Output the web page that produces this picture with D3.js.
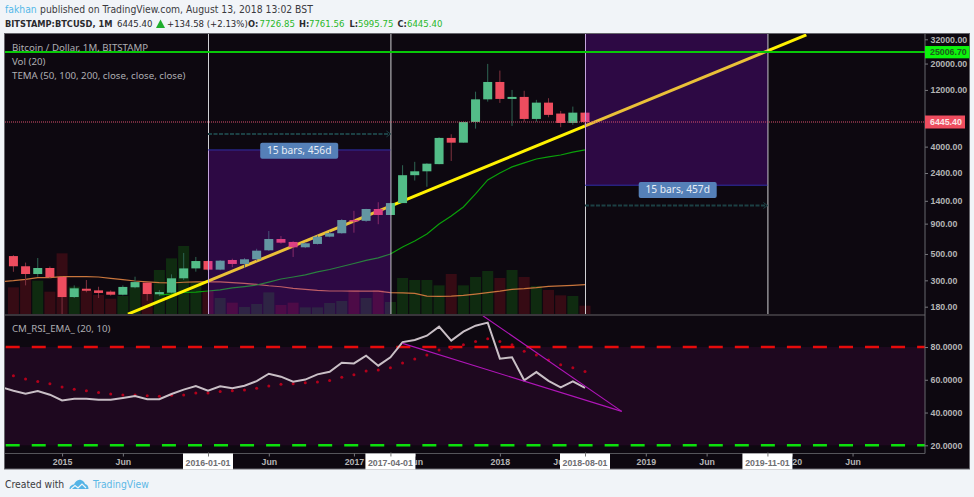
<!DOCTYPE html>
<html><head><meta charset="utf-8">
<style>html,body{margin:0;padding:0;background:#f1f4f8;overflow:hidden}svg{display:block}
.ax text{font-family:"Liberation Sans",Arial,sans-serif;font-size:8.8px;font-weight:bold;fill:#b4b4b4}
.hd{font-family:"DejaVu Sans Condensed","DejaVu Sans",sans-serif;font-stretch:condensed}
.lg{font-family:"Noto Sans",sans-serif}</style>
<script src="https://cdn.jsdelivr.net/npm/d3@7/dist/d3.min.js"></script></head><body>
<svg id="c" width="974" height="497"></svg>
<script>
// ---- data (months are bars, first bar 2014-09) ----
const months=['2014-09','2014-10','2014-11','2014-12','2015-01','2015-02','2015-03','2015-04','2015-05','2015-06','2015-07','2015-08','2015-09','2015-10','2015-11','2015-12','2016-01','2016-02','2016-03','2016-04','2016-05','2016-06','2016-07','2016-08','2016-09','2016-10','2016-11','2016-12','2017-01','2017-02','2017-03','2017-04','2017-05','2017-06','2017-07','2017-08','2017-09','2017-10','2017-11','2017-12','2018-01','2018-02','2018-03','2018-04','2018-05','2018-06','2018-07','2018-08'];
const opens =[480,394,339,381,320,217,255,247,241,227,262,287,229,236,312,378,436,369,445,412,451,537,668,631,569,607,699,747,965,950,1195,1064,1340,2300,2480,2850,4735,4320,6450,10000,14000,10080,10480,6840,9380,7590,6330,7726.85];
const highs =[489,423,462,392,322,272,302,265,247,272,322,290,249,337,510,472,440,445,456,462,553,780,708,640,628,715,770,985,1153,1200,1362,1350,2790,2980,2900,4800,5085,6500,11600,19870,17460,12000,11800,9900,10220,7990,8690,7761.56];
const lows  =[354,272,322,313,152,213,238,213,223,224,257,202,221,233,302,355,362,365,387,382,440,530,610,472,560,600,690,740,755,930,890,1064,1340,2076,1840,2845,3030,4320,5670,9570,9330,5975,6500,6493,7070,5830,6100,5995.75];
const closes=[394,339,381,319,217,257,245,235,227,264,290,230,239,312,378,436,369,439,412,451,533,668,622,569,615,699,747,965,950,1195,1064,1340,2300,2480,2875,4735,4320,6450,10000,14000,10080,10480,6840,9380,7400,6330,7726.85,6445.4];
const volumes=[80,104,100,67,182,82,70,57,46,54,80,60,132,167,204,97,70,48,34,21,30,65,27,34,20,20,33,39,72,48,72,36,108,102,102,86,120,86,111,129,108,132,111,84,72,56,54,25];
const tema50Start='2015-09';
const tema50=[226,230,237,239,244,249,259,266,274,290,308,320,333,353,370,392,416,441,463,500,572,643,736,894,1044,1242,1600,2097,2400,2700,2920,3150,3276,3400,3600,3750];
const tema100Start='2014-08';
const tema100=[292,298,306,316,316,322,322,322,320,312,304,296,291,287,285,289,291,292,291,287,283,277,270,265,257,252,247,244,244,243,243,243,236,235,233,221,220,221,224,230,236,243,252,255,260,267,269,272,276];
const rsiStart='2014-08';
const rsi=[55.5,53.3,51.5,53.1,50.9,47.4,48.4,48.4,47.8,47.8,48.9,50.1,48.1,48.1,51.3,54,56.2,53.3,56,54.8,56.4,59.2,63.7,61.9,58.8,60.1,63.3,64.9,70.4,70,74.7,68.6,73.7,83,84.3,86.9,92.4,83.9,89.4,93,94.9,72.9,73.7,59.7,64.7,59.3,55.4,59,55];
const rsiEmaStart='2014-09';
const rsiEma=[62.5,60.5,59,57.6,55.6,54.2,53.3,52.3,51.3,50.7,50.7,50.3,49.9,50.5,50.7,51.9,51.9,52.9,53.3,53.7,54.8,56.2,57.2,57.6,58.2,58.6,59.5,61.5,63.1,65.4,66,67.4,70.2,72.7,75.1,78.2,79.2,81.4,83.3,85.1,83.3,81.4,77.4,75.1,72.1,69.2,67.4,65];
const priceTicks=[32000,20000,12000,4000,2400,1400,900,500,300,180];
const rsiTicks=[80,60,40,20];
const timeTickMonths=['2015-01','2015-06','2016-06','2017-01','2017-06','2018-01','2018-06','2019-01','2019-06','2020-01','2020-06'];
const timeTickLabels=['2015','Jun','Jun','2017','Jun','2018','Jun','2019','Jun','2020','Jun'];
const markedMonths=['2016-01','2017-04','2018-08','2019-11'];
const markedLabels=['2016-01-01','2017-04-01','2018-08-01','2019-11-01'];
const lastPrice=6445.40, hLevel=25006.70;
const trendMonthIdx=[-6.58,49.2], trendPrice=[156,34850];
const zonePrices=[[100,3752],[1894,60000]];
const arrowPrices=[5117,1278];
const zoneLabels=['15 bars, 456d','15 bars, 457d'];
const zoneLabelPrices=[3752,1894];
const wedgeUpIdx=[22.6,34.02], wedgeUpRsi=[99.1,40.7];
const wedgeLowIdx=[16,34.02], wedgeLowRsi=[82.2,40.7];

// ---- helpers ----
const idx=s=>{const[a,b]=s.split('-').map(Number);return (a-2016)*12+b-1;};
const L=5,R=925,PT=34,PB=314,RT=316,RB=453.5,OUT=969.5,FB=469;
const x=d3.scaleLinear().domain([0,31]).range([208,585]);
const y=d3.scaleLog().domain([180,32000]).range([306.7,39.3]);
const yr=d3.scaleLinear().domain([20,80]).range([445.3,347]);
const volH=d3.scaleLinear().domain([0,204]).range([0,68]);
const svg=d3.select('#c');
const defs=svg.append('defs');
defs.append('clipPath').attr('id','p1').append('rect').attr('x',L).attr('y',PT).attr('width',R-L).attr('height',PB-PT);
defs.append('clipPath').attr('id','p2').append('rect').attr('x',L).attr('y',RT).attr('width',R-L).attr('height',RB-RT);

// frame
svg.append('rect').attr('x',4.5).attr('y',33.5).attr('width',OUT-4.5).attr('height',FB-33.5).attr('fill','#0d0810').attr('stroke','#66666c');
svg.append('rect').attr('x',L).attr('y',yr(80)).attr('width',R-L).attr('height',yr(20)-yr(80)).attr('fill','#1e081f');

const p1=svg.append('g').attr('clip-path','url(#p1)');
// volume
p1.selectAll('.v').data(months).join('rect').attr('x',d=>x(idx(d))-5.5).attr('width',11)
 .attr('y',(d,i)=>PB-volH(volumes[i])).attr('height',(d,i)=>volH(volumes[i]))
 .attr('fill',(d,i)=>closes[i]>=opens[i]?'#0f2b10':'#360b14');
// TEMA
const ln=(start,arr)=>d3.line().x((d,i)=>x(idx(start)+i)).y(d=>y(d))(arr);
p1.append('path').attr('d',ln(tema100Start,tema100)).attr('fill','none').attr('stroke','#c8753c').attr('stroke-width',1.2);
p1.append('path').attr('d',ln(tema50Start,tema50)).attr('fill','none').attr('stroke','#0aa00a').attr('stroke-width',1.2);
// trend line
p1.append('line').attr('x1',x(trendMonthIdx[0])).attr('x2',x(trendMonthIdx[1])).attr('y1',y(trendPrice[0])).attr('y2',y(trendPrice[1])).attr('stroke','#fff200').attr('stroke-width',3);
// candles
const up=i=>closes[i]>=opens[i];
p1.selectAll('.w').data(months).join('line').attr('x1',d=>x(idx(d))).attr('x2',d=>x(idx(d)))
 .attr('y1',(d,i)=>y(highs[i])).attr('y2',(d,i)=>y(lows[i])).attr('stroke',(d,i)=>up(i)?'#2f6553':'#80323f').attr('stroke-width',1);
p1.selectAll('.b').data(months).join('rect').attr('x',d=>x(idx(d))-4.5).attr('width',9)
 .attr('y',(d,i)=>y(Math.max(opens[i],closes[i])))
 .attr('height',(d,i)=>Math.max(1.5,y(Math.min(opens[i],closes[i]))-y(Math.max(opens[i],closes[i]))))
 .attr('fill',(d,i)=>up(i)?'#53bd88':'#ee4d5f');
// vertical markers
p1.selectAll('.vl').data(markedMonths).join('line').attr('x1',d=>x(idx(d))+.5).attr('x2',d=>x(idx(d))+.5).attr('y1',PT).attr('y2',PB).attr('stroke','#d0d0d4').attr('stroke-width',1);
// zones
const zones=[[markedMonths[0],markedMonths[1]],[markedMonths[2],markedMonths[3]]];
zones.forEach((z,k)=>{
 const a=x(idx(z[0])),b=x(idx(z[1])),t=y(zonePrices[k][1]),u=y(zonePrices[k][0]);
 p1.append('rect').attr('x',a).attr('width',b-a).attr('y',t).attr('height',u-t).attr('fill','#a00fff').attr('fill-opacity',.22);
 p1.append('line').attr('x1',a).attr('x2',b).attr('y1',k?u:t).attr('y2',k?u:t).attr('stroke','#2f2fa8').attr('stroke-width',1);
 const ay=y(arrowPrices[k]);
 p1.append('line').attr('x1',a).attr('x2',b).attr('y1',ay).attr('y2',ay).attr('stroke','#1c4044').attr('stroke-width',2).attr('stroke-dasharray','4 1.5');
 p1.append('path').attr('d',`M${b-4},${ay-3}L${b},${ay}L${b-4},${ay+3}`).attr('fill','none').attr('stroke','#1c4044');
 const cx=(a+b)/2+ (k?1.5:0), ly=y(zoneLabelPrices[k]);
 const cy=k?ly+4.7:ly+.7;
 p1.append('rect').attr('x',cx-39).attr('width',78).attr('y',cy-8).attr('height',16).attr('rx',2).attr('fill','#5580b8');
 p1.append('text').attr('x',cx).attr('y',cy+3.5).attr('text-anchor','middle').attr('class','lg').attr('font-size',10.2).attr('fill','#e8eef6').text(zoneLabels[k]);
});
// price / level lines
p1.append('line').attr('x1',L).attr('x2',R).attr('y1',y(lastPrice)).attr('y2',y(lastPrice)).attr('stroke','#d8506c').attr('stroke-width',1).attr('stroke-dasharray','1 1');
// legend
[['Bitcoin / Dollar, 1M, BITSTAMP',51],['Vol (20)',65],['TEMA (50, 100, 200, close, close, close)',79]].forEach(t=>
 svg.append('text').attr('x',12).attr('y',t[1]).attr('class','lg').attr('font-size',9.7).attr('fill','#aeaeb2').text(t[0]));
p1.append('line').attr('x1',L).attr('x2',R).attr('y1',y(hLevel)).attr('y2',y(hLevel)).attr('stroke','#08c808').attr('stroke-width',2);
svg.append('text').attr('x',12).attr('y',332).attr('class','lg').attr('font-size',9.7).attr('fill','#aeaeb2').text('CM_RSI_EMA_ (20, 10)');

// RSI pane
const p2=svg.append('g').attr('clip-path','url(#p2)');
p2.append('line').attr('x1',L).attr('x2',R).attr('y1',yr(80)).attr('y2',yr(80)).attr('stroke','#e60b0b').attr('stroke-width',2.4).attr('stroke-dasharray','14 12.04').attr('stroke-dashoffset',-0.7);
p2.append('line').attr('x1',L).attr('x2',R).attr('y1',yr(20)).attr('y2',yr(20)).attr('stroke','#0ce00c').attr('stroke-width',2.4).attr('stroke-dasharray','14 12.04').attr('stroke-dashoffset',-0.7);
p2.selectAll('.d').data(rsiEma).join('circle').attr('cx',(d,i)=>x(idx(rsiEmaStart)+i)).attr('cy',d=>yr(d)).attr('r',1.5).attr('fill','#b3001b');
p2.append('path').attr('d',d3.line().x((d,i)=>x(idx(rsiStart)+i)).y(d=>yr(d))(rsi)).attr('fill','none').attr('stroke','#c9bfc6').attr('stroke-width',2);
[[wedgeUpIdx,wedgeUpRsi],[wedgeLowIdx,wedgeLowRsi]].forEach(w=>
 p2.append('line').attr('x1',x(w[0][0])).attr('x2',x(w[0][1])).attr('y1',yr(w[1][0])).attr('y2',yr(w[1][1])).attr('stroke','#b015b8').attr('stroke-width',1.1));

// separators
svg.append('line').attr('x1',L).attr('x2',R).attr('y1',315).attr('y2',315).attr('stroke','#48444a').attr('stroke-width',1.5);
svg.append('line').attr('x1',L).attr('x2',R).attr('y1',RB).attr('y2',RB).attr('stroke','#55555a').attr('stroke-width',1);
svg.append('line').attr('x1',R).attr('x2',R).attr('y1',PT).attr('y2',RB).attr('stroke','#66666c').attr('stroke-width',1);

// axes
const styleAx=g=>{g.attr('class','ax');g.select('.domain').remove();g.selectAll('.tick line').attr('stroke','#77777c');};
svg.append('g').attr('transform',`translate(${R},0)`).call(d3.axisRight(y).tickValues(priceTicks).tickFormat(d3.format('.2f')).tickSize(3).tickPadding(2.5)).call(styleAx);
svg.append('g').attr('transform',`translate(${R},0)`).call(d3.axisRight(yr).tickValues(rsiTicks).tickFormat(d3.format('.4f')).tickSize(3).tickPadding(2.5)).call(styleAx);
const tickIdx=timeTickMonths.map(idx);
svg.append('g').attr('transform',`translate(0,${RB})`).call(d3.axisBottom(x).tickValues(tickIdx).tickFormat((d,i)=>timeTickLabels[i]).tickSize(3).tickPadding(2.5)).call(styleAx);

// marked date boxes
markedMonths.forEach((m,i)=>{const cx=x(idx(m));
 svg.append('rect').attr('x',cx-25).attr('width',50).attr('y',RB).attr('height',16).attr('fill','#fff');
 svg.append('line').attr('x1',cx+.5).attr('x2',cx+.5).attr('y1',RB-1).attr('y2',RB+3).attr('stroke','#777');
 svg.append('text').attr('x',cx).attr('y',465.5).attr('text-anchor','middle').attr('font-family','"Liberation Sans",sans-serif').attr('font-size',8.8).attr('font-weight','bold').attr('fill','#6e6e72').text(markedLabels[i]);
});
// price tags
svg.append('rect').attr('x',925).attr('y',y(lastPrice)-6.5).attr('width',40).attr('height',13).attr('fill','#ee4d5f');
svg.append('text').attr('x',930).attr('y',y(lastPrice)+3.2).attr('font-family','"Liberation Sans",sans-serif').attr('font-size',8.8).attr('font-weight','bold').attr('fill','#fbe6e8').text(d3.format('.2f')(lastPrice));
svg.append('rect').attr('x',925).attr('y',y(hLevel)-6).attr('width',44.5).attr('height',12.3).attr('fill','#0cf50c');
svg.append('text').attr('x',930).attr('y',y(hLevel)+3.2).attr('font-family','"Liberation Sans",sans-serif').attr('font-size',8.8).attr('font-weight','bold').attr('fill','#1e5a1e').text(d3.format('.2f')(hLevel));

// header
const hd=(t,xp,yp,c,w,s)=>svg.append('text').attr('x',xp).attr('y',yp).attr('class','hd').attr('font-size',s||10.3).attr('font-weight',w||'normal').attr('fill',c).text(t);
hd('fakhan',5,13,'#53b8e8');
hd('published on TradingView.com, August 13, 2018 13:02 BST',40,13,'#3a3a3e');
const G='#28b828',K='#2a2a2e';
hd('BITSTAMP:BTCUSD, 1M',5,27,K,'bold',9.2);
hd('6445.40',117,27,K,'normal',9.5);
svg.append('path').attr('d','M160.5,19.5L165,28H156Z').attr('fill','#1fae2e');
hd('+134.58 (+2.13%)',167,27,K,'normal',9.5);
[['O:',248,'7726.85',259.5],['H:',299,'7761.56',309],['L:',349.5,'5995.75',358],['C:',397.5,'6445.40',407]].forEach(r=>{hd(r[0],r[1],27,K,'bold',9.2);hd(r[2],r[3],27,G,'normal',9.5);});

// footer
hd('Created with',5,488,'#3a3a3e');
svg.append('path').attr('d','M69.5,489c0,-3 2.5,-4.5 4.5,-4.5c1,-3 4,-5.5 7,-4.5c2.5,.8 3.5,2.5 4,4c2,.2 3.5,2 3.5,5z').attr('fill','#55b4e6');
svg.append('path').attr('d','M71,489l4,-3.5l3,2.5l4,-4l4,4').attr('fill','none').attr('stroke','#f1f4f8').attr('stroke-width',1.2);
hd('TradingView',93,488,'#5cb8e6');
</script></body></html>
